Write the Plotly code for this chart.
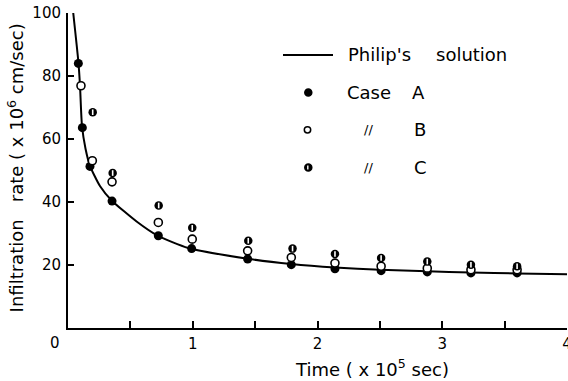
import plotly.graph_objects as go

# ---- data ----
curve_t = [0.042, 0.084, 0.096, 0.112, 0.140, 0.176, 0.256, 0.350, 0.550, 0.719, 0.964,
           1.44, 1.79, 2.14, 2.50, 2.88, 3.23, 3.60, 4.00]
curve_i = [100.0, 84.1, 77.1, 64.2, 57.0, 51.5, 45.1, 40.5, 33.8, 29.3, 25.4,
           22.0, 20.3, 19.2, 18.5, 18.0, 17.6, 17.3, 17.1]

a_t = [0.083, 0.115, 0.176, 0.353, 0.724, 0.991, 1.44, 1.79, 2.14, 2.51, 2.88, 3.23, 3.60]
a_i = [84.0, 63.6, 51.3, 40.3, 29.3, 25.2, 21.9, 20.1, 18.8, 18.2, 17.8, 17.5, 17.5]

b_t = [0.104, 0.195, 0.353, 0.724, 0.996, 1.44, 1.79, 2.14, 2.51, 2.88, 3.23, 3.60]
b_i = [76.9, 53.1, 46.4, 33.5, 28.2, 24.5, 22.4, 20.6, 19.6, 19.0, 18.5, 18.5]

c_t = [0.198, 0.358, 0.727, 0.996, 1.445, 1.80, 2.14, 2.51, 2.88, 3.23, 3.60]
c_i = [68.5, 49.2, 38.9, 31.8, 27.7, 25.2, 23.5, 22.2, 21.1, 20.1, 19.6]

x_ticks = [1, 2, 3, 4]
x_ticktext = ["1", "2", "3", "4"]
y_ticks = [20, 40, 60, 80, 100]
y_ticktext = ["20", "40", "60", "80", "100"]

FONT = "DejaVu Sans"

fig = go.Figure()
fig.add_trace(go.Scatter(x=curve_t, y=curve_i, mode="lines",
                         line=dict(color="black", width=2, shape="spline", smoothing=0.6),
                         name="Philip's solution", showlegend=False))
fig.add_trace(go.Scatter(x=a_t, y=a_i, mode="markers",
                         marker=dict(symbol="circle", size=9, color="black"),
                         name="Case A", showlegend=False))
fig.add_trace(go.Scatter(x=b_t, y=b_i, mode="markers",
                         marker=dict(symbol="circle", size=8, color="white",
                                     line=dict(color="black", width=1.6)),
                         name="Case B", showlegend=False))
fig.add_trace(go.Scatter(x=c_t, y=c_i, mode="markers",
                         marker=dict(symbol="circle", size=8.5, color="black"),
                         name="Case C", showlegend=False))
fig.add_trace(go.Scatter(x=c_t, y=c_i, mode="markers",
                         marker=dict(symbol="line-ns", size=4,
                                     line=dict(color="white", width=1.6)),
                         name="Case C", showlegend=False, hoverinfo="skip"))

fig.update_layout(
    width=568, height=381,
    margin=dict(l=68, r=1, t=13, b=52.6),
    paper_bgcolor="white", plot_bgcolor="white",
    font=dict(family=FONT, color="black", size=15),
    showlegend=False,
)
fig.update_xaxes(range=[0, 4], tickvals=x_ticks, ticktext=x_ticktext,
                 ticks="inside", ticklen=7, tickwidth=1.6, tickcolor="black",
                 minor=dict(tick0=0.5, dtick=1, ticks="inside", ticklen=7,
                            tickwidth=1.6, tickcolor="black", showgrid=False),
                 showline=True, linewidth=2, linecolor="black",
                 showgrid=False, zeroline=False, ticklabelstandoff=1,
                 ticklabeloverflow="allow", automargin=False,
                 tickfont=dict(size=15, family=FONT))
fig.update_yaxes(range=[0, 100], tickvals=y_ticks, ticktext=y_ticktext,
                 ticks="inside", ticklen=6, tickwidth=1.6, tickcolor="black",
                 showline=True, linewidth=2, linecolor="black",
                 showgrid=False, zeroline=False, ticklabelstandoff=2,
                 ticklabeloverflow="allow", automargin=False,
                 tickfont=dict(size=15, family=FONT))

ann = []
# origin label
ann.append(dict(text="0", x=0, y=0, xref="paper", yref="paper", xanchor="center",
                yanchor="middle", xshift=-13, yshift=-15, showarrow=False,
                font=dict(size=15, family=FONT)))
# axis titles
ann.append(dict(text="Time\u00a0(\u00a0x\u00a010<sup>5</sup>\u00a0sec)", x=0.610, y=-0.126,
                xref="paper", yref="paper", xanchor="center", yanchor="middle",
                showarrow=False, font=dict(size=18, family=FONT)))
ann.append(dict(text="Infiltration\u00a0\u00a0\u00a0rate\u00a0(\u00a0x\u00a010<sup>6</sup>\u00a0cm/sec)",
                x=-0.104, y=0.507, xref="paper", yref="paper", xanchor="center",
                yanchor="middle", textangle=-90, showarrow=False,
                font=dict(size=18, family=FONT)))
# legend texts
def legtext(t, px, py, size=18):
    ann.append(dict(text=t, x=(px - 68) / 499, y=(328.4 - py) / 315.4, xref="paper",
                    yref="paper", xanchor="left", yanchor="middle", showarrow=False,
                    font=dict(size=size, family=FONT)))

legtext("Philip's", 346, 55)
legtext("solution", 434, 55)
legtext("Case", 345, 92.7)
legtext("A", 410, 92.7)
legtext("//", 362, 130, 13)
legtext("B", 412, 130)
legtext("//", 362, 167.7, 13)
legtext("C", 412, 167.7)
fig.update_layout(annotations=ann)

# legend symbols
shapes = []
ly = (328.4 - 55) / 315.4
shapes.append(dict(type="line", xref="paper", yref="paper",
                   x0=(283 - 68) / 499, x1=(333 - 68) / 499, y0=ly, y1=ly,
                   line=dict(color="black", width=2)))

def legcircle(px, py, fill, r=3.5, lw=1.5):
    shapes.append(dict(type="circle", xref="paper", yref="paper",
                       xsizemode="pixel", ysizemode="pixel",
                       xanchor=(px - 68) / 499, yanchor=(328.4 - py) / 315.4,
                       x0=-r, x1=r, y0=-r, y1=r, fillcolor=fill,
                       line=dict(color="black", width=lw)))

legcircle(308.3, 92.7, "black")
legcircle(307.5, 130, "white", r=3.2)
legcircle(308.3, 167.7, "black")
shapes.append(dict(type="line", xref="paper", yref="paper",
                   xsizemode="pixel", ysizemode="pixel",
                   xanchor=(308.3 - 68) / 499, yanchor=(328.4 - 167.7) / 315.4,
                   x0=-0.5, x1=-0.5, y0=-2, y1=2, line=dict(color="white", width=1.4)))
fig.update_layout(shapes=shapes)

fig.write_html("out.html")
